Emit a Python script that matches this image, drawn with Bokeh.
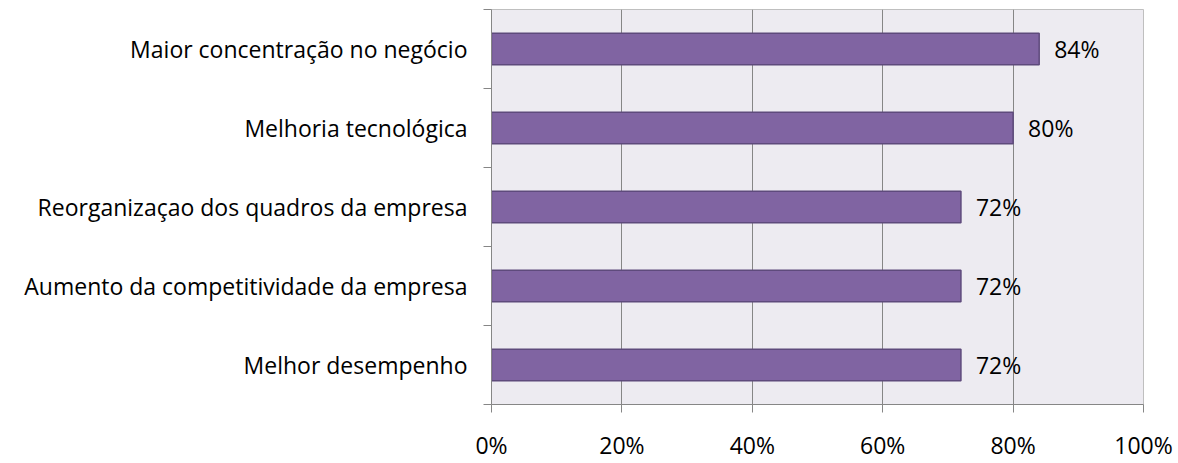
from bokeh.plotting import figure
from bokeh.models import FixedTicker, ColumnDataSource, Range1d
from bokeh.core.properties import value
from bokeh.embed import file_html
from bokeh.resources import INLINE

categories = [
    "Melhor desempenho",
    "Aumento da competitividade da empresa",
    "Reorganizaçao dos quadros da empresa",
    "Melhoria tecnológica",
    "Maior concentração no negócio",
]
values = [0.72, 0.72, 0.72, 0.80, 0.84]
labels = ["72%", "72%", "72%", "80%", "84%"]
x_ticks = [0, 0.2, 0.4, 0.6, 0.8, 1.0]
x_tick_labels = ["0%", "20%", "40%", "60%", "80%", "100%"]

FONT = "Open Sans"
FS = "23px"

ypos = list(range(len(categories)))
src = ColumnDataSource(dict(y=ypos, v=values, lab=labels))

p = figure(width=1178, height=463, output_backend="svg", toolbar_location=None,
           x_range=Range1d(0, 1), y_range=Range1d(-0.5, len(categories) - 0.5),
           min_border_left=491, min_border_right=35, min_border_top=9, min_border_bottom=54)
p.background_fill_color = "#EDEBF1"
p.border_fill_color = "white"
p.outline_line_color = "#BFBFBF"

p.hbar(y="y", right="v", left=0, height=0.4, source=src,
       fill_color="#8064A2", line_color="#5E4A7C", line_width=1.5)
p.text(x="v", y="y", text="lab", source=src, x_offset=15, text_baseline="middle",
       text_font=value(FONT), text_font_size=FS, text_color="black")

# x axis
p.xaxis.ticker = FixedTicker(ticks=x_ticks)
p.xaxis.major_label_overrides = {t: l for t, l in zip(x_ticks, x_tick_labels)}
p.xaxis.axis_line_color = "#868686"
p.xaxis.major_tick_line_color = "#868686"
p.xaxis.major_tick_out = 8
p.xaxis.major_tick_in = 0
p.xaxis.minor_tick_line_color = None
p.xaxis.major_label_text_font = FONT
p.xaxis.major_label_text_font_size = FS
p.xaxis.major_label_text_color = "black"
p.xaxis.major_label_standoff = 16

# y axis
bounds = [i - 0.5 for i in range(len(categories) + 1)]
p.yaxis.ticker = FixedTicker(ticks=ypos, minor_ticks=bounds)
p.yaxis.major_label_overrides = {i: c for i, c in enumerate(categories)}
p.yaxis.axis_line_color = "#868686"
p.yaxis.major_tick_line_color = None
p.yaxis.major_tick_out = 0
p.yaxis.major_tick_in = 0
p.yaxis.minor_tick_line_color = "#868686"
p.yaxis.minor_tick_out = 8
p.yaxis.minor_tick_in = 0
p.yaxis.major_label_text_font = FONT
p.yaxis.major_label_text_font_size = FS
p.yaxis.major_label_text_color = "black"
p.yaxis.major_label_standoff = 16

p.xgrid.ticker = FixedTicker(ticks=[0.2, 0.4, 0.6, 0.8])
p.xgrid.grid_line_color = "#868686"
p.ygrid.grid_line_color = None

open("out.html", "w").write(file_html(p, INLINE))
